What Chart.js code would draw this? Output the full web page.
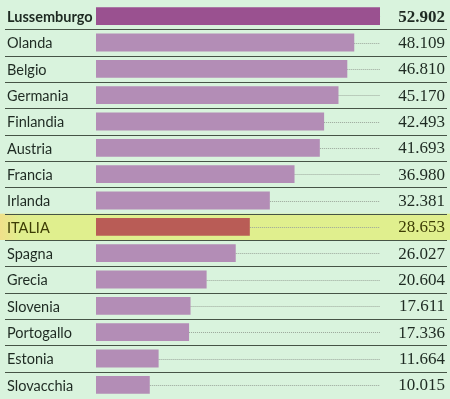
<!DOCTYPE html>
<html>
<head>
<meta charset="utf-8">
<script src="https://cdn.jsdelivr.net/npm/chart.js@4/dist/chart.umd.min.js"></script>
<style>
  html, body { margin: 0; padding: 0; background: #d9f3dd; }
  #wrap { width: 450px; height: 399px; position: relative; }
</style>
</head>
<body>
<div id="wrap"><canvas id="chart"></canvas></div>
<script>
// data
const countries = ['Lussemburgo', 'Olanda', 'Belgio', 'Germania', 'Finlandia', 'Austria', 'Francia',
    'Irlanda', 'ITALIA', 'Spagna', 'Grecia', 'Slovenia', 'Portogallo', 'Estonia', 'Slovacchia'];
const values = [52902, 48109, 46810, 45170, 42493, 41693, 36980, 32381, 28653, 26027, 20604, 17611, 17336, 11664, 10015];
const valueLabels = ['52.902', '48.109', '46.810', '45.170', '42.493', '41.693', '36.980', '32.381',
    '28.653', '26.027', '20.604', '17.611', '17.336', '11.664', '10.015'];

const topIndex = 0;
const italyIndex = countries.indexOf('ITALIA');

const barColors = countries.map((c, i) => {
    if (i === topIndex) return '#9a5190';
    if (i === italyIndex) return '#b95c56';
    return '#b38db6';
});

const rowsPlugin = {
    id: 'rows',
    beforeDraw(chart) {
        const ctx = chart.ctx;
        const y = chart.scales.y;
        const step = y.getPixelForValue(1) - y.getPixelForValue(0);
        ctx.save();
        ctx.fillStyle = '#d9f3dd';
        ctx.fillRect(0, 0, chart.width, chart.height);
        // highlighted row
        const yc = y.getPixelForValue(italyIndex);
        const grad = ctx.createLinearGradient(0, 0, 20, 0);
        grad.addColorStop(0, '#f0e08a');
        grad.addColorStop(1, '#e0ef8e');
        ctx.fillStyle = grad;
        ctx.fillRect(0, yc - step / 2, chart.width, step);
        // separators
        ctx.strokeStyle = '#465446';
        ctx.lineWidth = 1.2;
        for (let i = 0; i < countries.length - 1; i++) {
            const ly = Math.round(y.getPixelForValue(i) + step / 2) + 0.5;
            ctx.beginPath();
            ctx.moveTo(5, ly);
            ctx.lineTo(447, ly);
            ctx.stroke();
        }
        ctx.restore();
    },
    beforeDatasetsDraw(chart) {
        const ctx = chart.ctx;
        const x = chart.scales.x;
        const y = chart.scales.y;
        const xEnd = x.getPixelForValue(values[topIndex]);
        ctx.save();
        ctx.strokeStyle = '#9aa59a';
        ctx.lineWidth = 1;
        ctx.setLineDash([1, 1]);
        values.forEach((v, i) => {
            const ly = Math.round(y.getPixelForValue(i)) + 0.5;
            ctx.beginPath();
            ctx.moveTo(x.getPixelForValue(v), ly);
            ctx.lineTo(xEnd, ly);
            ctx.stroke();
        });
        ctx.restore();
    },
    afterDatasetsDraw(chart) {
        const ctx = chart.ctx;
        const y = chart.scales.y;
        ctx.save();
        ctx.textBaseline = 'middle';
        countries.forEach((c, i) => {
            const ly = y.getPixelForValue(i) + 1;
            ctx.fillStyle = i === italyIndex ? '#3c3c05' : '#1e2a22';
            ctx.textAlign = 'left';
            ctx.font = (i === topIndex ? 'bold ' : '') + '14.5px Lato, sans-serif';
            ctx.fillText(c, 7, ly);
            ctx.textAlign = 'right';
            ctx.font = (i === topIndex ? 'bold ' : '') + '17px "Liberation Serif", serif';
            ctx.fillText(valueLabels[i], 445, ly);
        });
        ctx.restore();
    }
};

new Chart(document.getElementById('chart'), {
    type: 'bar',
    data: {
        labels: countries,
        datasets: [{
            data: values,
            backgroundColor: barColors,
            borderWidth: 0,
            categoryPercentage: 1,
            barPercentage: 0.68
        }]
    },
    options: {
        indexAxis: 'y',
        responsive: true,
        maintainAspectRatio: false,
        animation: false,
        layout: { padding: { left: 96, right: 70, top: 3, bottom: 1 } },
        plugins: { legend: { display: false }, tooltip: { enabled: false } },
        scales: {
            x: { display: false, min: 0, max: 52902 },
            y: { display: false }
        }
    },
    plugins: [rowsPlugin]
});
</script>
</body>
</html>
